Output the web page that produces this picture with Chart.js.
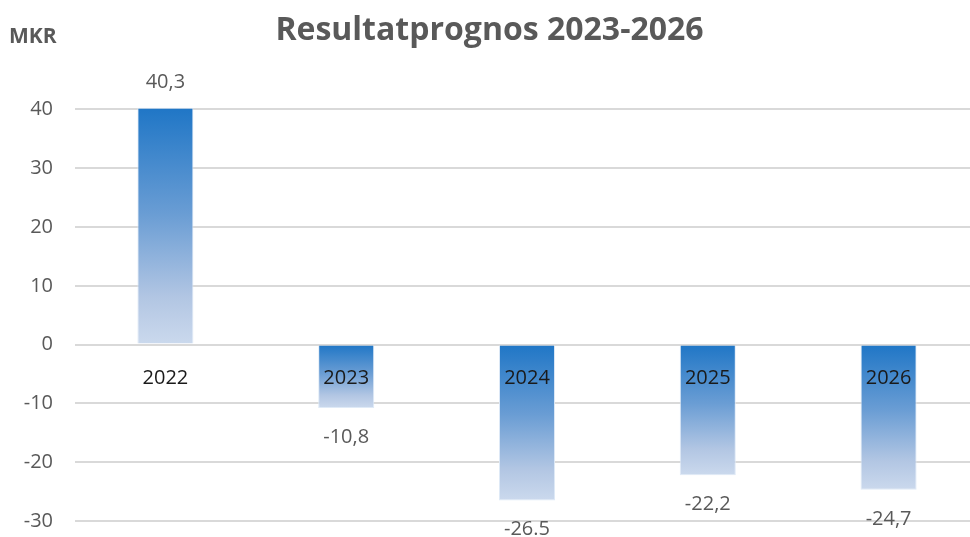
<!DOCTYPE html>
<html>
<head>
<meta charset="utf-8">
<script src="https://cdn.jsdelivr.net/npm/chart.js@4/dist/chart.umd.min.js"></script>
<style>
  html, body { margin: 0; padding: 0; background: #fff; overflow: hidden; }
  #wrap { width: 979px; height: 555px; }
</style>
</head>
<body>
<div id="wrap"><canvas id="chart"></canvas></div>
<script>
const years = ["2022", "2023", "2024", "2025", "2026"];
const results = [40.3, -10.8, -26.5, -22.2, -24.7];
const valueLabels = ["40,3", "-10,8", "-26.5", "-22,2", "-24,7"];
const yTicks = [40, 30, 20, 10, 0, -10, -20, -30];

const fontFamily = "'Open Sans', 'Noto Sans', sans-serif";
const gray = "#595959";

function barGradient(context) {
  const chart = context.chart;
  const y = chart.scales.y;
  if (!chart.chartArea || !y) return "#5b95d2";
  const v = context.raw;
  const top = y.getPixelForValue(Math.max(v, 0));
  const bottom = y.getPixelForValue(Math.min(v, 0));
  const g = chart.ctx.createLinearGradient(0, top, 0, bottom);
  g.addColorStop(0, "#1f76c6");
  g.addColorStop(0.45, "#6a9dd4");
  g.addColorStop(0.8, "#b2c6e3");
  g.addColorStop(1, "#cbd9ed");
  return g;
}

// MKR unit label and the value labels at the bar ends
const extraText = {
  id: "extraText",
  afterDatasetsDraw(chart) {
    const ctx = chart.ctx;
    ctx.save();
    ctx.fillStyle = gray;
    ctx.font = "bold 21px " + fontFamily;
    ctx.textAlign = "left";
    ctx.textBaseline = "middle";
    ctx.fillText("MKR", 9, 37);

    ctx.font = "20px " + fontFamily;
    ctx.textAlign = "center";
    const meta = chart.getDatasetMeta(0);
    meta.data.forEach((bar, i) => {
      const offset = results[i] >= 0 ? -25 : 29;
      ctx.fillText(valueLabels[i], bar.x, bar.y + offset);
    });
    ctx.restore();
  }
};

new Chart(document.getElementById("chart"), {
  type: "bar",
  data: {
    labels: years,
    datasets: [{
      data: results,
      backgroundColor: barGradient,
      borderColor: "rgba(220, 232, 246, 0.9)",
      borderWidth: 1,
      barPercentage: 0.31,
      categoryPercentage: 1,
      clip: false
    }]
  },
  options: {
    responsive: true,
    maintainAspectRatio: false,
    animation: false,
    layout: { padding: { top: 0, bottom: 0, left: 0, right: 0 } },
    plugins: {
      legend: { display: false },
      tooltip: { enabled: false },
      title: {
        display: true,
        text: "Resultatprognos 2023-2026",
        color: gray,
        font: { family: fontFamily, size: 32, weight: "bold" },
        padding: { top: 12, bottom: 59 }
      }
    },
    scales: {
      x: {
        position: { y: 0 },
        grid: { display: false, drawTicks: false },
        border: { display: false },
        ticks: {
          z: 1,
          color: "#1a1a1a",
          font: { family: fontFamily, size: 20 },
          padding: 22
        }
      },
      y: {
        min: -30,
        max: 40,
        afterBuildTicks(scale) {
          scale.ticks = yTicks.map(v => ({ value: v }));
        },
        afterFit(scale) { scale.width = 75; },
        grid: { color: "#d9d9d9", lineWidth: 2, drawTicks: false },
        border: { display: false },
        ticks: {
          color: gray,
          font: { family: fontFamily, size: 20 },
          padding: 22
        }
      }
    }
  },
  plugins: [extraText]
});
</script>
</body>
</html>
